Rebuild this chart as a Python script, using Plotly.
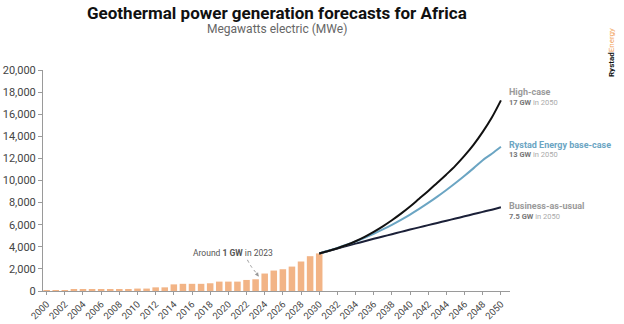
import plotly.graph_objects as go

# ---- data ----
hist_years = list(range(2000, 2031))
hist_mw = [50, 50, 60, 100, 100, 150, 150, 150, 150, 150, 220, 220, 330, 330,
           600, 650, 650, 650, 700, 850, 850, 850, 1000, 1060, 1580, 1850,
           1970, 2210, 2670, 3150, 3400]

fc_years = list(range(2030, 2051))
high_case = [3400, 3620, 3870, 4160, 4500, 4900, 5350, 5850, 6400, 7000, 7650,
             8350, 9050, 9800, 10550, 11350, 12250, 13250, 14400, 15700, 17250]
base_case = [3400, 3640, 3900, 4180, 4480, 4820, 5180, 5570, 5990, 6440, 6920,
             7430, 7970, 8540, 9140, 9770, 10430, 11120, 11840, 12420, 13050]
bau_case = [3400, 3620, 3850, 4070, 4290, 4500, 4720, 4930, 5140, 5350, 5560,
            5760, 5960, 6160, 6360, 6560, 6760, 6960, 7160, 7360, 7580]

y_ticks = list(range(0, 20001, 2000))
x_ticks = list(range(2000, 2051, 2))

FONT = "Roboto"
BAR = "#F2B486"
HIGH = "#111111"
BASE = "#6BA5C3"
BAU = "#1B2038"

TOP_M, BOT_M, H = 70, 33, 324
PLOT_H = H - TOP_M - BOT_M
TOP_Y = 1 + TOP_M / PLOT_H  # paper coordinate of the figure's top edge

fig = go.Figure()
fig.add_trace(go.Bar(x=hist_years, y=hist_mw, marker_color=BAR, width=0.72,
                     marker_line_width=0, showlegend=False))
fig.add_trace(go.Scatter(x=fc_years, y=bau_case, mode="lines",
                         line=dict(color=BAU, width=2, shape="spline"), showlegend=False))
fig.add_trace(go.Scatter(x=fc_years, y=base_case, mode="lines",
                         line=dict(color=BASE, width=2, shape="spline"), showlegend=False))
fig.add_trace(go.Scatter(x=fc_years, y=high_case, mode="lines",
                         line=dict(color=HIGH, width=2, shape="spline"), showlegend=False))

fig.update_layout(
    width=624, height=H,
    margin=dict(l=43, r=114, t=TOP_M, b=BOT_M),
    paper_bgcolor="white", plot_bgcolor="white",
    font=dict(family=FONT, color="#444", size=11),
    xaxis=dict(range=[1999.6, 2051], tickvals=x_ticks, ticktext=[str(v) for v in x_ticks],
               tickangle=-45, showline=True, linecolor="#9a9a9a", linewidth=1,
               ticks="outside", ticklen=3, tickcolor="#9a9a9a", showgrid=False,
               zeroline=False, automargin=False, tickfont=dict(size=9.5, color="#444")),
    yaxis=dict(range=[0, 20000], tickvals=y_ticks,
               ticktext=[f"{v:,}" for v in y_ticks], showline=True,
               linecolor="#9a9a9a", linewidth=1, ticks="outside", ticklen=4,
               tickcolor="#9a9a9a", showgrid=False, zeroline=False, automargin=False,
               tickfont=dict(size=11, color="#444")),
)

annos = [
    dict(x=0.5, y=TOP_Y, xref="paper", yref="paper", yanchor="top", xanchor="center",
         text="<b>Geothermal power generation forecasts for Africa</b>",
         font=dict(size=17, color="#111", family=FONT), showarrow=False, yshift=-1),
    dict(x=0.5, y=TOP_Y, xref="paper", yref="paper", yanchor="top", xanchor="center",
         text="Megawatts electric (MWe)", font=dict(size=12, color="#666"),
         showarrow=False, yshift=-20),
    dict(x=2020.5, y=3400, xref="x", yref="y", text="Around <b>1 GW</b> in 2023",
         font=dict(size=8.5, color="#555"), showarrow=False),
    dict(x=2023.35, y=1300, ax=2023.0, ay=1700, xref="x", yref="y", axref="x", ayref="y",
         text="", showarrow=True, arrowhead=2, arrowsize=0.8, arrowwidth=1,
         arrowcolor="#999"),
    dict(x=1.0, y=TOP_Y, xref="paper", yref="paper", xanchor="right", yanchor="top",
         xshift=108, yshift=-26, textangle=-90, showarrow=False,
         text="<b>Rystad</b><span style='color:#F2A45C'>Energy</span>",
         font=dict(size=8, color="#111")),
]
lab = [
    (high_case[-1], "High-case", "#9a9a9a", "17 GW", 6),
    (base_case[-1], "Rystad Energy base-case", BASE, "13 GW", 0),
    (bau_case[-1], "Business-as-usual", "#9a9a9a", "7.5 GW", -1),
]
for yv, name, col, gw, dy in lab:
    annos.append(dict(x=2050.7, y=yv, xref="x", yref="y", xanchor="left", yanchor="middle",
                      text=f"<b>{name}</b>", font=dict(size=9, color=col),
                      showarrow=False, yshift=2 + dy))
    annos.append(dict(x=2050.7, y=yv, xref="x", yref="y", xanchor="left", yanchor="middle",
                      text=f"<b><span style='color:#777'>{gw}</span></b> in 2050",
                      font=dict(size=7.5, color="#aaa"),
                      showarrow=False, yshift=-8 + dy))
fig.update_layout(annotations=annos)
# dashed curved pointer
fig.add_shape(type="path", xref="x", yref="y",
              path="M 2022.1 2820 Q 2022.6 2000 2023.2 1550",
              line=dict(color="#999", width=1, dash="dot"))

fig.write_html("out.html")
